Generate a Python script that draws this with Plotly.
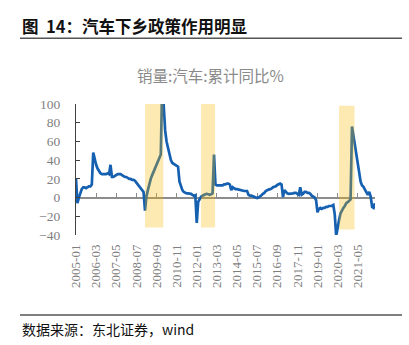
import plotly.graph_objects as go

# ---- data ----
months = [f"{y}-{m:02d}" for y in range(2005, 2023) for m in range(1, 13)][:209]  # 2005-01 .. 2022-05

sales_2005 = [20, -6, 0, 5, 9, 11, 11, 10, 11, 12, 12, 14]
sales_2006 = [48, 40, 35, 31, 28, 26, 25, 25, 25, 25, 26, 25]
sales_2007 = [35, 22, 22, 23, 24, 25, 25, 25, 24, 23, 22, 22]
sales_2008 = [21, 20, 20, 19, 19, 18, 16, 14, 12, 10, 8, 6]
sales_2009 = [-14, 1, 8, 15, 20, 24, 28, 32, 36, 40, 43, 46]
sales_2010 = [125, 90, 72, 60, 52, 45, 40, 37, 36, 35, 34, 33]
sales_2011 = [17, 11, 8, 6, 5, 4.5, 4.5, 4.5, 4, 3, 2, 2.5]
sales_2012 = [-27, -4.5, -1, 1, 2, 3, 3.5, 4, 3.5, 3, 3.5, 4.5]
sales_2013 = [46, 14, 13, 13, 13, 13, 13, 14, 14, 15, 15, 14]
sales_2014 = [8, 11, 10, 9, 9, 8.5, 8, 7.5, 7, 7, 7, 7]
sales_2015 = [3, 2, 2, 1.5, 1, 0.5, -0.5, 0, 1, 2.5, 4, 5]
sales_2016 = [7, 8, 8.5, 9, 9.5, 11, 11.5, 12, 13.5, 14.5, 15, 14]
sales_2017 = [0.5, 8, 6, 4.5, 4, 4, 4, 4.5, 5, 5, 4, 3]
sales_2018 = [11, 3, 4, 6, 6, 5, 5, 4, 2, 1, 0, -2.8]
sales_2019 = [-15.8, -12, -11, -12, -11, -11, -10, -10, -9, -9, -9, -8]
sales_2020 = [-18, -41, -30, -24, -17, -13, -11, -9, -6, -5, -3, -2]
sales_2021 = [76, 66, 56, 44, 33, 24, 17, 13, 11.5, 8.5, 6, 3]
sales_2022 = [6, 1, -10, -11, -6]

sales = (sales_2005 + sales_2006 + sales_2007 + sales_2008 + sales_2009 + sales_2010
         + sales_2011 + sales_2012 + sales_2013 + sales_2014 + sales_2015 + sales_2016
         + sales_2017 + sales_2018 + sales_2019 + sales_2020 + sales_2021 + sales_2022)

tick_labels = months[0:197:14]

# policy periods (shaded)
shade_start = ["2009-01", "2012-04", "2020-04"]
shade_end = ["2010-01", "2013-01", "2021-02"]
shade_top = [100, 100, 98]
shade_bottom = [-32, -32, -34]

y_min, y_max = -40, 100

# ---- figure ----
W, H = 409, 345
ML, MR, MT, MB = 76, 34, 104, 110
PW, PH = W - ML - MR, H - MT - MB


def px_x(px):
    return (px - ML) / PW


def px_y(py):
    return (H - MB - py) / PH


serif = "Liberation Serif"
cjk = "Noto Sans CJK SC"
gray_txt = "#7f7f7f"

fig = go.Figure()
# invisible trace to hold the main (label) axis
fig.add_trace(go.Scatter(x=months, y=sales, mode="lines", line=dict(width=0),
                         opacity=0, hoverinfo="skip", showlegend=False))
# main series on overlay axis (drawn with zero line)
fig.add_trace(go.Scatter(x=months, y=sales, mode="lines", xaxis="x2",
                         line=dict(color="#1560B0", width=2.7), showlegend=False))

x_range = [0, len(months) - 1]

shapes = []
for s, e, t, b in zip(shade_start, shade_end, shade_top, shade_bottom):
    shapes.append(dict(type="rect", xref="x", yref="y",
                       x0=months.index(s), x1=months.index(e) + 0.75,
                       y0=b, y1=t, fillcolor="rgba(248,182,0,0.3)",
                       line=dict(width=0), layer="above"))
# header and footer rules
for ry in (38.3, 315):
    shapes.append(dict(type="line", xref="paper", yref="paper",
                       x0=px_x(20), x1=px_x(402), y0=px_y(ry), y1=px_y(ry),
                       line=dict(color="#555555", width=1.5)))

fig.update_layout(
    width=W, height=H,
    margin=dict(l=ML, r=MR, t=MT, b=MB),
    paper_bgcolor="white", plot_bgcolor="white",
    shapes=shapes,
    xaxis=dict(type="category", range=x_range, tickmode="array",
               tickvals=tick_labels, ticktext=tick_labels, tickangle=-90,
               showline=False, ticks="", showgrid=False, zeroline=False,
               tickfont=dict(family=serif, size=13, color=gray_txt),
               ticklabelstandoff=6),
    xaxis2=dict(type="category", overlaying="x", anchor="free",
                position=(0 - y_min) / (y_max - y_min), range=x_range,
                tickmode="array", tickvals=tick_labels, showticklabels=False,
                showline=True, linecolor="#8c8c8c", linewidth=1.5,
                ticks="inside", ticklen=4, tickcolor="#8c8c8c", tickwidth=1,
                showgrid=False, zeroline=False, layer="below traces"),
    yaxis=dict(range=[y_min, y_max], dtick=20, showline=True, linecolor="#404040",
               linewidth=1, ticks="inside", ticklen=4, tickcolor="#404040",
               showgrid=False, zeroline=False,
               tickfont=dict(family=serif, size=13.5, color=gray_txt),
               ticklabelstandoff=12),
    annotations=[
        dict(text="<b>图  14：汽车下乡政策作用明显</b>", xref="paper", yref="paper",
             x=px_x(20), y=px_y(25.5), xanchor="left", yanchor="middle",
             showarrow=False, font=dict(family=cjk, size=16.5, color="#111111")),
        dict(text="销量:汽车:累计同比%", xref="paper", yref="paper",
             x=px_x(210.5), y=px_y(75), xanchor="center", yanchor="middle",
             showarrow=False, font=dict(family=cjk, size=15.5, color="#8a8a8a")),
        dict(text="数据来源：东北证券，wind", xref="paper", yref="paper",
             x=px_x(20), y=px_y(329), xanchor="left", yanchor="middle",
             showarrow=False, font=dict(family=cjk, size=14, color="#111111")),
    ],
)

fig.write_html("out.html")
